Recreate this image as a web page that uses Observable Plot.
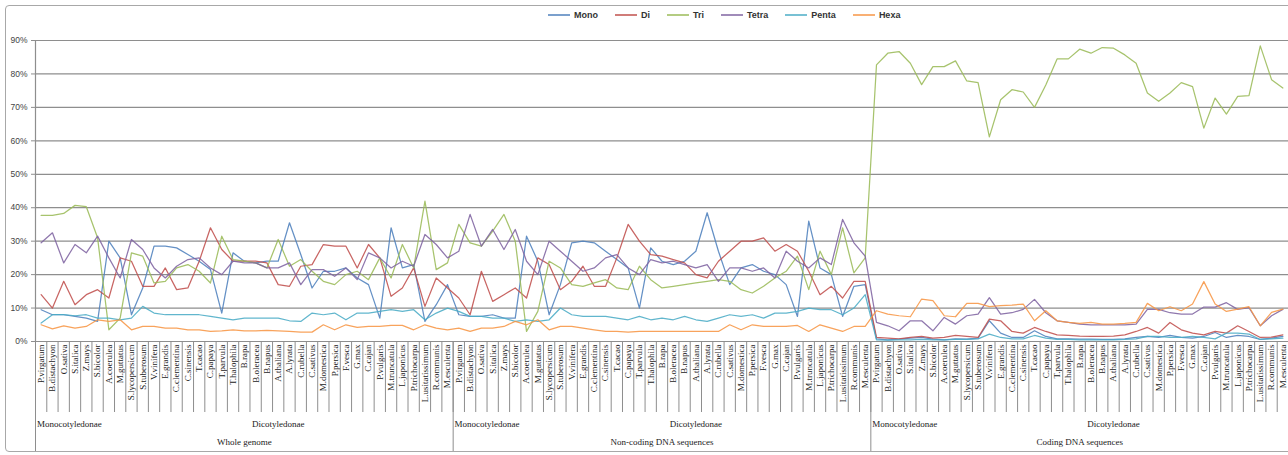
<!DOCTYPE html>
<html>
<head>
<meta charset="utf-8">
<script src="https://cdn.jsdelivr.net/npm/d3@7"></script>
<script src="https://cdn.jsdelivr.net/npm/@observablehq/plot@0.6"></script>
<style>
  body { margin: 0; background: #fff; }
  #chart { position: relative; width: 1288px; height: 455px; overflow: hidden; }
  #frame { position: absolute; left: 5px; top: 5px; width: 1292px; height: 447px;
           border: 1px solid #a8a8a8; border-radius: 4px; box-sizing: border-box; pointer-events: none; }
  #legend { height: 30px; display: flex; align-items: center; padding-left: 548px; box-sizing: border-box;
            font: bold 9px "Liberation Sans", Arial, sans-serif; color: #333; }
  .item { display: flex; align-items: center; margin-right: 17px; }
  .item svg { margin-right: 4px; }
  #plot svg { display: block; }
</style>
</head>
<body>
<div id="chart">
  <div id="legend"></div>
  <div id="plot"></div>
  <div id="frame"></div>
</div>
<script>
// Species, in the order used for each of the three sequence sets
const species = [
  "P.virgatum", "B.distachyon", "O.sativa", "S.italica", "Z.mays", "S.bicolor",
  "A.coerulea", "M.guttatus", "S.lycopersicum", "S.tuberosum", "V.vinifera", "E.grandis",
  "C.clementina", "C.sinensis", "T.cacao", "C.papaya", "T.parvula", "T.halophila",
  "B.rapa", "B.oleracea", "B.napus", "A.thaliana", "A.lyrata", "C.rubella",
  "C.sativus", "M.domestica", "P.persica", "F.vesca", "G.max", "C.cajan",
  "P.vulgaris", "M.truncatula", "L.japonicus", "P.trichocarpa", "L.usitatissimum",
  "R.communis", "M.esculenta"
];
const clades = ["Monocotyledonae", "Dicotyledonae"];
const cladeSizes = [6, 31];
const sequenceSets = ["Whole genome", "Non-coding DNA sequences", "Coding DNA sequences"];

const seriesNames = ["Mono", "Di", "Tri", "Tetra", "Penta", "Hexa"];
const seriesColors = ["#4F81BD", "#C0504D", "#9BBB59", "#8064A2", "#4BACC6", "#F79646"];
const yTicks = [0, 0.1, 0.2, 0.3, 0.4, 0.5, 0.6, 0.7, 0.8, 0.9];

// Share (%) of each SSR motif class; whole genome, then non-coding, then coding
const mono = [
  9.5, 8, 8, 7.5, 7, 6, 30, 25, 8, 16, 28.5, 28.5, 28, 26, 24, 21.5, 8.5, 26.5, 24, 23.5, 24, 24, 35.5, 26, 16, 21, 21, 22, 19, 17, 7, 34, 22, 23, 6, 11, 17,
  8, 7.5, 7.5, 8, 7, 7, 31.5, 24, 8, 17, 29.5, 30, 29.5, 27, 24.5, 22, 10, 28, 24, 23, 24, 27, 38.5, 27, 17, 22, 23, 21, 20, 17, 7.5, 36, 22, 20, 7.5, 16.5, 17,
  0.8, 0.5, 0.7, 1, 1.2, 0.7, 0.5, 0.8, 0.7, 1, 6.2, 2.5, 1.2, 1.2, 3.2, 1.5, 0.8, 0.8, 0.7, 0.7, 0.6, 0.6, 0.8, 1.2, 1.5, 1.2, 1.8, 1.2, 1, 1.5, 2.7, 1.2, 1.8, 1.5, 0.6, 1, 1.5
];
const di = [
  14, 10, 18, 11, 14, 15.5, 13, 25, 24, 16.5, 16.5, 22, 15.5, 16, 24, 34, 27.5, 24, 24, 24, 23.5, 17, 16.5, 22.5, 23, 29, 28.5, 28.5, 22, 29, 25, 13.5, 16, 22, 10.5, 19, 16,
  13, 8, 21, 12, 14, 16, 13, 25, 23, 15.5, 18, 22.5, 16.5, 16.5, 25, 35, 30, 26, 25.5, 24.5, 23.5, 20, 19, 24, 27, 30, 30, 31, 27, 29, 27, 21, 14, 16.5, 13, 18, 18,
  1.2, 1, 0.8, 1.2, 1.5, 1, 1.2, 1.8, 1.5, 1.2, 6.7, 6.2, 3, 2.5, 4.2, 3, 2, 1.8, 1.6, 1.5, 1.5, 1.6, 2, 3, 4.2, 2.5, 5.7, 3.5, 2.5, 2, 3, 2.5, 4.7, 3, 1.2, 1.3, 2
];
const tri = [
  37.7, 37.7, 38.3, 40.7, 40.3, 31, 3.5, 7, 26.5, 25.5, 17.5, 18, 22, 23, 21, 17.5, 31.5, 24.5, 24, 23.5, 22, 30.5, 22.5, 24.5, 21, 18, 17, 20, 21, 18.5, 25, 19, 29, 22, 42, 21.5, 23.5,
  35, 29.5, 28.5, 33, 38, 30, 3, 9, 24, 22, 17, 16.5, 17.5, 18.5, 16, 15.5, 22.5, 18.5, 16, 16.5, 17, 17.5, 18, 18.5, 18, 15.5, 14.5, 16.5, 19, 21, 25.5, 15.5, 27, 20, 34, 20.5, 25,
  82.7, 86.2, 86.7, 83.2, 76.8, 82.2, 82.2, 83.9, 77.9, 77.4, 61.2, 72.3, 75.3, 74.6, 70, 76.7, 84.5, 84.5, 87.4, 86.2, 87.9, 87.7, 85.7, 83.2, 74.3, 71.8, 74.3, 77.4, 76.2, 63.8, 72.8, 68, 73.3, 73.5, 88.4, 78.3, 75.8
];
const tetra = [
  29.5, 32.5, 23.5, 29, 26.5, 31.5, 25, 19, 30.5, 27.5, 22, 19, 22.5, 24.5, 25, 22, 20, 24, 23.5, 23.5, 22, 22, 23.5, 17, 21.5, 21.5, 19.5, 22, 18.5, 26.5, 25, 22, 24, 22.5, 32, 29, 25,
  27, 38, 28.5, 33.5, 27.5, 33.5, 24, 20, 30, 27, 24, 21, 22, 25, 26, 22, 20, 24.5, 23.5, 24, 23, 22, 23, 18, 22, 22, 21, 22, 19, 27, 24, 22, 25, 23, 36.5, 29.5, 25.5,
  5.7, 4.7, 3.2, 6.2, 6.2, 3.2, 7.2, 5.2, 7.7, 8.2, 13.1, 8.2, 8.6, 9.6, 12.6, 8.6, 6.2, 5.7, 5.2, 5, 5, 5, 5, 5.2, 9.6, 9.6, 8.6, 8.2, 8.2, 10.3, 10.3, 11.6, 9.6, 10.1, 4.7, 7.7, 9.6
];
const penta = [
  5.5, 8, 8, 7.7, 8, 7, 7, 6.5, 7, 10.5, 8.5, 8, 8, 8, 8, 7.5, 7, 6.5, 7, 7, 7, 7, 6.2, 6, 8.5, 8, 8.5, 6.5, 8.5, 8.5, 9, 9.5, 9, 9.5, 6.5, 8.5, 10,
  9, 7.5, 7.5, 7, 7, 6, 6.5, 6, 6.5, 10, 8, 7.5, 7.5, 7.5, 7, 6.5, 7.5, 6.5, 7, 6.5, 7.5, 6.5, 6, 7, 8, 7.5, 8, 7, 8.5, 8.5, 9, 10, 9.5, 9.5, 8, 10, 14,
  0.5, 0.4, 0.5, 0.5, 0.6, 0.5, 0.5, 0.6, 0.6, 0.8, 2.2, 1.2, 0.8, 0.8, 1.8, 1, 0.6, 0.6, 0.5, 0.5, 0.5, 0.5, 0.6, 0.8, 1.5, 1.5, 1.2, 1.2, 1.5, 1.2, 0.8, 2.5, 2.5, 2.2, 0.6, 0.8, 1
];
const hexa = [
  5, 3.8, 4.7, 4, 4.5, 6.5, 6, 6.5, 3.5, 4.5, 4.5, 4, 4, 3.5, 3.5, 3, 3.2, 3.5, 3.2, 3.2, 3.3, 3.2, 3, 2.8, 2.8, 5, 3.5, 5, 4.2, 4.5, 4.5, 4.8, 4.8, 3.5, 5, 4, 3.5,
  4, 3, 4, 4, 4.5, 6, 5, 6.5, 3.5, 4.5, 4.5, 4, 3.5, 3, 3, 2.8, 3, 3, 3, 3, 3, 3, 3, 3, 5, 3.5, 5, 4.5, 4.5, 4.5, 4.8, 3, 5, 4, 3, 4.5, 4.5,
  9.2, 8.2, 7.7, 7.4, 12.7, 12.2, 7.7, 7.4, 11.4, 11.4, 10.4, 10.7, 10.9, 11.2, 6.2, 9.2, 6.2, 5.7, 5.4, 5.7, 5.2, 5.2, 5.4, 5.7, 11.4, 9.2, 10.4, 9.2, 11.2, 17.9, 11.2, 9, 9.7, 10.4, 4.7, 8.7, 9.7
];
const seriesValues = [mono, di, tri, tetra, penta, hexa];

// Long-format rows for the line mark
const rows = seriesNames.flatMap((name, s) =>
  seriesValues[s].map((v, i) => ({series: name, idx: i, value: v / 100}))
);

// Category positions on the multi-level x axis
const n = species.length;
const total = n * sequenceSets.length;
const positions = d3.range(total);
const speciesEdges = d3.range(total + 1).map(i => i - 0.5);
const setEdges = d3.range(sequenceSets.length + 1).map(g => g * n - 0.5);
const cladeStarts = d3.cumsum([0, ...cladeSizes.slice(0, -1)]);
const cladeEdges = sequenceSets.flatMap((_, g) => cladeStarts.map(s => g * n + s - 0.5));
const cladeLabel = new Map();
sequenceSets.forEach((_, g) => clades.forEach((c, j) =>
  cladeLabel.set(g * n + cladeStarts[j] + (cladeSizes[j] - 1) / 2, c)));
const setLabel = new Map(sequenceSets.map((s, g) => [g * n + (n - 1) / 2, s]));

const gray = "#8e8e8e";
const serif = "'Liberation Serif', 'Times New Roman', serif";
const sans = "'Liberation Sans', Arial, sans-serif";

const chart = Plot.plot({
  width: 1288,
  height: 425,
  marginLeft: 35,
  marginRight: 0,
  marginTop: 10,
  marginBottom: 114,
  x: {domain: [-0.5, total - 0.5], axis: null, label: null},
  y: {domain: [0, 0.9], axis: null, label: null},
  color: {domain: seriesNames, range: seriesColors},
  style: {background: "transparent", overflow: "visible", fontFamily: serif, color: "#222"},
  marks: [
    Plot.gridY(yTicks, {stroke: gray, strokeOpacity: 1, strokeWidth: 1.2}),
    Plot.frame({anchor: "left", stroke: gray, strokeWidth: 1.2}),
    Plot.axisY(yTicks, {tickFormat: d3.format(".0%"), tickSize: 4, tickPadding: 4, stroke: gray,
      fill: "#444", fontSize: 8.5, fontFamily: sans, label: null}),
    Plot.axisX(positions, {tickFormat: i => species[i % n], tickRotate: -90, tickSize: 0, tickPadding: 3,
      fontSize: 9, fontFamily: serif, fill: "#222", label: null}),
    Plot.axisX(speciesEdges, {tickSize: 71, tickFormat: () => "", stroke: gray, label: null}),
    Plot.axisX(cladeEdges, {tickSize: 91, tickFormat: () => "", stroke: gray, label: null}),
    Plot.axisX(setEdges, {tickSize: 111, tickFormat: () => "", stroke: gray, label: null}),
    Plot.axisX([...cladeLabel.keys()], {tickFormat: d => cladeLabel.get(d), tickSize: 0, tickPadding: 79,
      fontSize: 9, fontFamily: serif, fill: "#222", label: null}),
    Plot.axisX([...setLabel.keys()], {tickFormat: d => setLabel.get(d), tickSize: 0, tickPadding: 97,
      fontSize: 9, fontFamily: serif, fill: "#222", label: null}),
    Plot.line(rows, {x: "idx", y: "value", z: "series", stroke: "series", strokeWidth: 1.25, strokeOpacity: 0.88})
  ]
});
document.getElementById("plot").append(chart);

// Legend: a short line swatch followed by the series name
const legend = document.getElementById("legend");
seriesNames.forEach((name, s) => {
  const item = document.createElement("div");
  item.className = "item";
  item.innerHTML = `<svg width="22" height="6"><line x1="0" y1="3" x2="22" y2="3" stroke="${seriesColors[s]}" stroke-width="1.5"/></svg><span>${name}</span>`;
  legend.append(item);
});
</script>
</body>
</html>
